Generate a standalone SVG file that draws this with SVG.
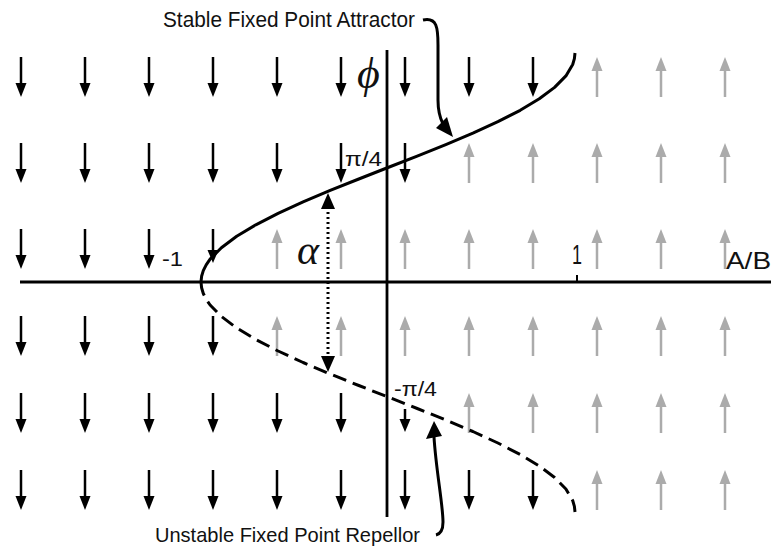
<svg xmlns="http://www.w3.org/2000/svg" xmlns:xlink="http://www.w3.org/1999/xlink" width="771" height="547" viewBox="0 0 771 547">
<style>
.bk{stroke:#000;stroke-width:2.5;fill:none}
.gr{stroke:#ababab;stroke-width:2.5;fill:none}
.ax{stroke:#000;stroke-width:2.8;fill:none}
.cv{stroke:#000;stroke-width:3;fill:none;stroke-linejoin:round}
.dash{stroke-dasharray:14 7}
.lbl{font-family:"Liberation Sans","DejaVu Sans",sans-serif;fill:#111}
.greek{font-family:"Liberation Serif","DejaVu Serif",serif;font-style:italic;fill:#111}
</style>
<defs>
<g id="dn"><line x1="0" y1="0" x2="0" y2="28" class="bk"/><polygon points="-5.5,26 5.5,26 0,40" fill="#000"/></g>
<g id="up"><line x1="0" y1="12" x2="0" y2="40" class="gr"/><polygon points="-5.5,14 5.5,14 0,0" fill="#ababab"/></g>
</defs>
<rect width="771" height="547" fill="#fff"/>
<g id="field">
<!-- row 1 -->
<use href="#dn" x="21" y="57"/><use href="#dn" x="85" y="57"/><use href="#dn" x="149" y="57"/><use href="#dn" x="213" y="57"/><use href="#dn" x="277" y="57"/><use href="#dn" x="341" y="57"/><use href="#dn" x="405" y="57"/><use href="#dn" x="469" y="57"/><use href="#dn" x="533" y="57"/>
<use href="#up" x="597" y="57"/><use href="#up" x="661" y="57"/><use href="#up" x="725" y="57"/>
<!-- row 2 -->
<use href="#dn" x="21" y="143"/><use href="#dn" x="85" y="143"/><use href="#dn" x="149" y="143"/><use href="#dn" x="213" y="143"/><use href="#dn" x="277" y="143"/><use href="#dn" x="341" y="143"/><use href="#dn" x="405" y="143"/>
<use href="#up" x="469" y="143"/><use href="#up" x="533" y="143"/><use href="#up" x="597" y="143"/><use href="#up" x="661" y="143"/><use href="#up" x="725" y="143"/>
<!-- row 3 -->
<use href="#dn" x="21" y="229"/><use href="#dn" x="85" y="229"/><use href="#dn" x="149" y="229"/>
<line x1="213" y1="229" x2="213" y2="252" class="bk"/><polygon points="207.5,250 218.5,250 213,263" fill="#000"/>
<use href="#up" x="277" y="229"/><use href="#up" x="341" y="229"/><use href="#up" x="405" y="229"/><use href="#up" x="469" y="229"/><use href="#up" x="533" y="229"/><use href="#up" x="597" y="229"/><use href="#up" x="661" y="229"/><use href="#up" x="725" y="229"/>
<!-- row 4 -->
<use href="#dn" x="21" y="316"/><use href="#dn" x="85" y="316"/><use href="#dn" x="149" y="316"/><use href="#dn" x="213" y="316"/>
<use href="#up" x="277" y="316"/><use href="#up" x="341" y="316"/><use href="#up" x="405" y="316"/><use href="#up" x="469" y="316"/><use href="#up" x="533" y="316"/><use href="#up" x="597" y="316"/><use href="#up" x="661" y="316"/><use href="#up" x="725" y="316"/>
<!-- row 5 -->
<use href="#dn" x="21" y="393"/><use href="#dn" x="85" y="393"/><use href="#dn" x="149" y="393"/><use href="#dn" x="213" y="393"/><use href="#dn" x="277" y="393"/><use href="#dn" x="341" y="393"/>
<line x1="405" y1="409" x2="405" y2="421" class="bk"/><polygon points="399.5,419 410.5,419 405,432" fill="#000"/>
<use href="#up" x="469" y="393"/><use href="#up" x="533" y="393"/><use href="#up" x="597" y="393"/><use href="#up" x="661" y="393"/><use href="#up" x="725" y="393"/>
<!-- row 6 -->
<use href="#dn" x="21" y="470"/><use href="#dn" x="85" y="470"/><use href="#dn" x="149" y="470"/><use href="#dn" x="213" y="470"/><use href="#dn" x="277" y="470"/><use href="#dn" x="341" y="470"/><use href="#dn" x="405" y="470"/><use href="#dn" x="469" y="470"/><use href="#dn" x="533" y="470"/>
<use href="#up" x="597" y="470"/><use href="#up" x="661" y="470"/><use href="#up" x="725" y="470"/>
</g>
<g id="axes">
<line x1="20" y1="282" x2="771" y2="282" class="ax"/>
<line x1="387" y1="50" x2="387" y2="517" class="ax"/>
<line x1="577" y1="275" x2="577" y2="282" stroke="#000" stroke-width="2"/>
</g>
<g id="stable-curve">
<path class="cv" d="M201,282 L201.6,276.3 L203.3,270.6 L206.2,264.8 L210.1,259.1 L221.4,247.7 L236.7,236.2 L255.8,224.8 L278.1,213.3 L303.1,201.9 L330.2,190.4 L358.8,179 L388,167.5 L417.2,156.1 L445.8,144.6 L472.9,133.2 L497.9,121.7 L520.2,110.3 L539.3,98.8 L554.6,87.4 L565.9,75.9 L572.7,64.5 L574.4,58.7 L575,53"/>
</g>
<g id="unstable-curve">
<path class="cv dash" d="M201,282 L201.6,287.8 L203.3,293.5 L206.2,299.3 L210.1,305 L221.4,316.5 L236.7,328 L255.8,339.5 L278.1,351 L303.1,362.5 L330.2,374 L358.8,385.5 L388,397 L417.2,408.5 L445.8,420 L472.9,431.5 L497.9,443 L520.2,454.5 L539.3,466 L554.6,477.5 L565.9,489 L572.7,500.5 L574.4,506.3 L575,512"/>
</g>
<g id="connectors">
<line x1="328" y1="207" x2="328" y2="357" stroke="#000" stroke-width="3" stroke-dasharray="2 3"/>
<polygon points="328,193 321,209 335,209" fill="#000"/>
<polygon points="328,372 321,356 335,356" fill="#000"/>
<path d="M423,20 C437,17 438,28 438,45 L438,100 C438,112 440,118 443,124" class="cv"/>
<polygon points="453,137 436,128 447,117" fill="#000"/>
<path d="M434,437 C436,470 443,505 443,522 C443,530 440,534 436,535" class="cv"/>
<polygon points="434,421 426,439 442,436" fill="#000"/>
</g>
<g id="labels">
<text class="lbl" x="163" y="27" font-size="21.5" textLength="252" lengthAdjust="spacingAndGlyphs">Stable Fixed Point Attractor</text>
<text class="lbl" x="155" y="542" font-size="21" textLength="265" lengthAdjust="spacingAndGlyphs">Unstable Fixed Point Repellor</text>
<text class="lbl" x="345" y="166" font-size="20" textLength="37" lengthAdjust="spacingAndGlyphs">π/4</text>
<text class="lbl" x="394" y="396" font-size="20" textLength="43" lengthAdjust="spacingAndGlyphs">-π/4</text>
<text class="lbl" x="162" y="266" font-size="21" textLength="21" lengthAdjust="spacingAndGlyphs">-1</text>
<text class="lbl" x="572" y="264" font-size="28" textLength="10" lengthAdjust="spacingAndGlyphs">1</text>
<text class="lbl" x="726" y="269" font-size="24" textLength="45" lengthAdjust="spacingAndGlyphs">A/B</text>
<text class="greek" x="297" y="264" font-size="42">α</text>
<text class="greek" x="357" y="88" font-size="44">ϕ</text>
</g>
</svg>
